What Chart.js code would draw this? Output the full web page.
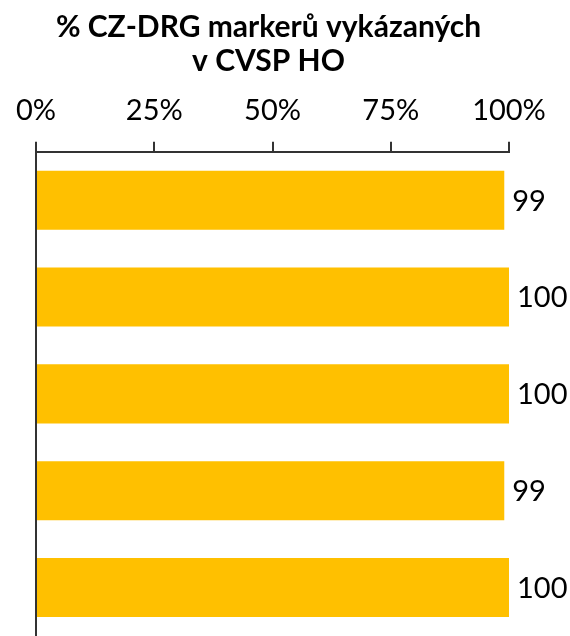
<!DOCTYPE html>
<html>
<head>
<meta charset="utf-8">
<script src="https://cdn.jsdelivr.net/npm/chart.js@4"></script>
<style>
  html, body { margin: 0; padding: 0; background: #fff; }
  #wrap { width: 570px; height: 636px; }
</style>
</head>
<body>
<div id="wrap"><canvas id="markerChart"></canvas></div>
<script>
const categories = ['1', '2', '3', '4', '5'];
const percentValues = [99, 100, 100, 99, 100];
const tickValues = [0, 25, 50, 75, 100];
const titleLines = ['% CZ-DRG markerů vykázaných', 'v CVSP HO'];

const FONT = 'Lato, "Liberation Sans", sans-serif';
const AXIS_COLOR = '#333333';

// draws the value next to each bar
const valueLabels = {
    id: 'valueLabels',
    afterDatasetsDraw(chart) {
        const ctx = chart.ctx;
        const meta = chart.getDatasetMeta(0);
        ctx.save();
        ctx.font = '29px ' + FONT;
        ctx.fillStyle = '#000';
        ctx.textAlign = 'left';
        ctx.textBaseline = 'middle';
        meta.data.forEach((bar, i) => {
            ctx.fillText(String(percentValues[i]), bar.x + 8, bar.y + 1);
        });
        ctx.restore();
    }
};

new Chart(document.getElementById('markerChart').getContext('2d'), {
    type: 'bar',
    data: {
        labels: categories,
        datasets: [{
            data: percentValues,
            backgroundColor: '#FFC000',
            borderWidth: 0,
            barPercentage: 0.61,
            categoryPercentage: 1
        }]
    },
    options: {
        indexAxis: 'y',
        responsive: true,
        maintainAspectRatio: false,
        animation: false,
        layout: { padding: { left: 28, right: 61, top: 0, bottom: 0 } },
        plugins: {
            legend: { display: false },
            tooltip: { enabled: false },
            title: {
                display: true,
                text: titleLines,
                color: '#000',
                font: { family: FONT, size: 30, weight: 'bold', lineHeight: 1.15 },
                padding: { top: 10, bottom: 0 }
            }
        },
        scales: {
            x: {
                position: 'top',
                min: 0,
                max: 100,
                afterBuildTicks(scale) {
                    scale.ticks = tickValues.map(v => ({ value: v }));
                },
                ticks: {
                    color: '#000',
                    font: { family: FONT, size: 29 },
                    padding: 14,
                    maxRotation: 0,
                    callback: v => v + '%'
                },
                grid: {
                    drawOnChartArea: false,
                    drawTicks: true,
                    tickLength: 10,
                    color: AXIS_COLOR,
                    lineWidth: 2
                },
                border: { display: true, color: AXIS_COLOR, width: 2 }
            },
            y: {
                ticks: { display: false },
                grid: { display: false },
                border: { display: true, color: AXIS_COLOR, width: 2 }
            }
        }
    },
    plugins: [valueLabels]
});
</script>
</body>
</html>
